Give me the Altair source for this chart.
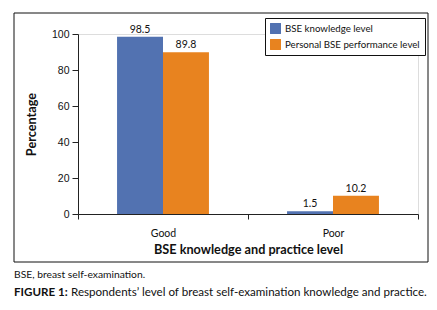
import altair as alt
import pandas as pd

categories = ["Good", "Poor"]
series = ["BSE knowledge level", "Personal BSE performance level"]
knowledge = [98.5, 1.5]
performance = [89.8, 10.2]
colors = ["#5272B1", "#E8831F"]
y_ticks = [0, 20, 40, 60, 80, 100]
x_title = "BSE knowledge and practice level"
y_title = "Percentage"
note = "BSE, breast self-examination."
fig_label = "FIGURE 1:"
fig_caption = "Respondents\u2019 level of breast self-examination knowledge and practice."

FONT = "Lato"

rows = []
for i, c in enumerate(categories):
    rows.append({"level": c, "series": series[0], "value": knowledge[i]})
    rows.append({"level": c, "series": series[1], "value": performance[i]})
df = pd.DataFrame(rows)
df["label"] = df["value"].map(lambda v: f"{v:.1f}")

W, H = 340, 180

x_enc = alt.X(
    "level:N",
    sort=categories,
    scale=alt.Scale(domain=categories, paddingInner=0, paddingOuter=0),
    axis=alt.Axis(
        title=x_title, labelAngle=0, tickBand="extent", tickSize=5,
        domainColor="#222222", tickColor="#222222", labelFont=FONT,
        labelFontSize=10.5, labelColor="#111111", labelPadding=9,
        titleFont=FONT, titleFontSize=12.7, titleFontWeight="bold",
        titleColor="#111111", titlePadding=5,
    ),
)
xoff_enc = alt.XOffset(
    "series:N", sort=series,
    scale=alt.Scale(domain=series, paddingInner=0, paddingOuter=0.85),
)
y_enc = alt.Y(
    "value:Q",
    scale=alt.Scale(domain=[0, 100], nice=False),
    axis=alt.Axis(
        title=y_title, values=y_ticks, grid=False, tickSize=6,
        domainColor="#222222", tickColor="#222222",
        labelFont="Liberation Sans", labelFontSize=10.5, labelColor="#111111",
        labelPadding=3, titleFont=FONT, titleFontSize=12.7,
        titleFontWeight="bold", titleColor="#111111", titlePadding=13,
    ),
)
color_enc = alt.Color(
    "series:N", sort=series,
    scale=alt.Scale(domain=series, range=colors),
    legend=alt.Legend(
        title=None, orient="none", legendX=187, legendY=-16,
        direction="vertical", strokeColor="#111111", fillColor="white",
        padding=5, symbolType="square", symbolSize=120,
        symbolStrokeWidth=0, labelFont=FONT, labelFontSize=9.7,
        labelColor="#111111", rowPadding=5, labelOffset=4,
    ),
)

base = alt.Chart(df)
bars = base.mark_bar().encode(x=x_enc, xOffset=xoff_enc, y=y_enc, color=color_enc)
labels = base.mark_text(
    baseline="bottom", dy=-2, font=FONT, fontSize=10.5, color="#111111"
).encode(x=x_enc, xOffset=xoff_enc, y=y_enc, text="label:N")

one = pd.DataFrame({"k": [0]})
frame = alt.Chart(one).mark_rect(
    fill=None, stroke="#111111", strokeWidth=1
).encode(
    x=alt.value(-64), x2=alt.value(350), y=alt.value(-21), y2=alt.value(228)
)
note_text = alt.Chart(one).mark_text(
    align="left", baseline="middle", font=FONT, fontSize=10.3, color="#111111"
).encode(x=alt.value(-64), y=alt.value(241), text=alt.value(note))
fig_bold = alt.Chart(one).mark_text(
    align="left", baseline="middle", font=FONT, fontSize=11.6,
    fontWeight="bold", color="#111111"
).encode(x=alt.value(-64), y=alt.value(259), text=alt.value(fig_label))
fig_rest = alt.Chart(one).mark_text(
    align="left", baseline="middle", font=FONT, fontSize=11.6, color="#111111"
).encode(x=alt.value(-7), y=alt.value(259), text=alt.value(fig_caption))

chart = alt.layer(bars, labels, frame, note_text, fig_bold, fig_rest).properties(
    width=W, height=H,
    autosize=alt.AutoSizeParams(type="none"),
    padding={"left": 78, "top": 34, "right": 19, "bottom": 96},
).configure_view(stroke=None).configure(background="white")

chart.save("out.html", embed_options={"renderer": "svg", "actions": False})
